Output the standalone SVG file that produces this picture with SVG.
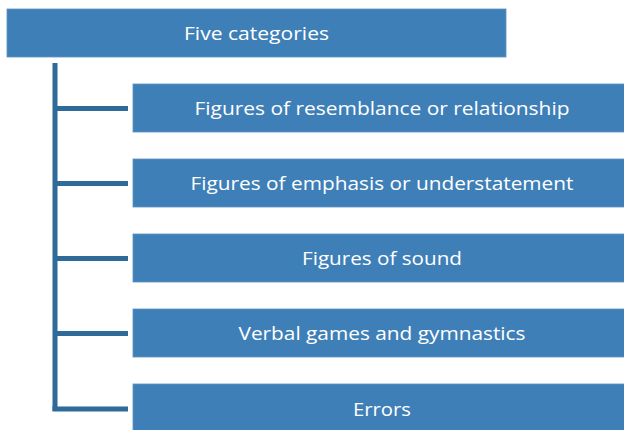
<svg xmlns="http://www.w3.org/2000/svg" width="624" height="430" viewBox="0 0 624 430">
<style>
.box{fill:#3f7fb7;stroke:#5b93c4;stroke-width:0.8}
.lbl{fill:#ffffff;font-family:"Open Sans","Liberation Sans",sans-serif;font-size:19px;text-anchor:middle;dominant-baseline:central}
.con{stroke:#2f6a99;stroke-width:5;fill:none}
</style>
<rect width="624" height="430" fill="#ffffff"/>
<g id="connectors">
<path class="con" d="M55 63 V411"/>
<path class="con" d="M55 108.5 H128"/>
<path class="con" d="M55 183.5 H128"/>
<path class="con" d="M55 258.5 H128"/>
<path class="con" d="M55 333.5 H128"/>
<path class="con" d="M52.5 409 H128"/>
</g>
<g id="root">
<rect class="box" x="7" y="9" width="499" height="48"/>
<text class="lbl" x="256.5" y="33" textLength="145" lengthAdjust="spacingAndGlyphs">Five categories</text>
</g>
<g id="n1">
<rect class="box" x="133" y="84" width="500" height="48"/>
<text class="lbl" x="382" y="108" textLength="375" lengthAdjust="spacingAndGlyphs">Figures of resemblance or relationship</text>
</g>
<g id="n2">
<rect class="box" x="133" y="159" width="500" height="48"/>
<text class="lbl" x="382" y="183" textLength="383" lengthAdjust="spacingAndGlyphs">Figures of emphasis or understatement</text>
</g>
<g id="n3">
<rect class="box" x="133" y="234" width="500" height="48"/>
<text class="lbl" x="382" y="258" textLength="160" lengthAdjust="spacingAndGlyphs">Figures of sound</text>
</g>
<g id="n4">
<rect class="box" x="133" y="309" width="500" height="48"/>
<text class="lbl" x="382" y="333" textLength="287" lengthAdjust="spacingAndGlyphs">Verbal games and gymnastics</text>
</g>
<g id="n5">
<rect class="box" x="133" y="384" width="500" height="48"/>
<text class="lbl" x="382" y="409" textLength="58" lengthAdjust="spacingAndGlyphs">Errors</text>
</g>
</svg>
